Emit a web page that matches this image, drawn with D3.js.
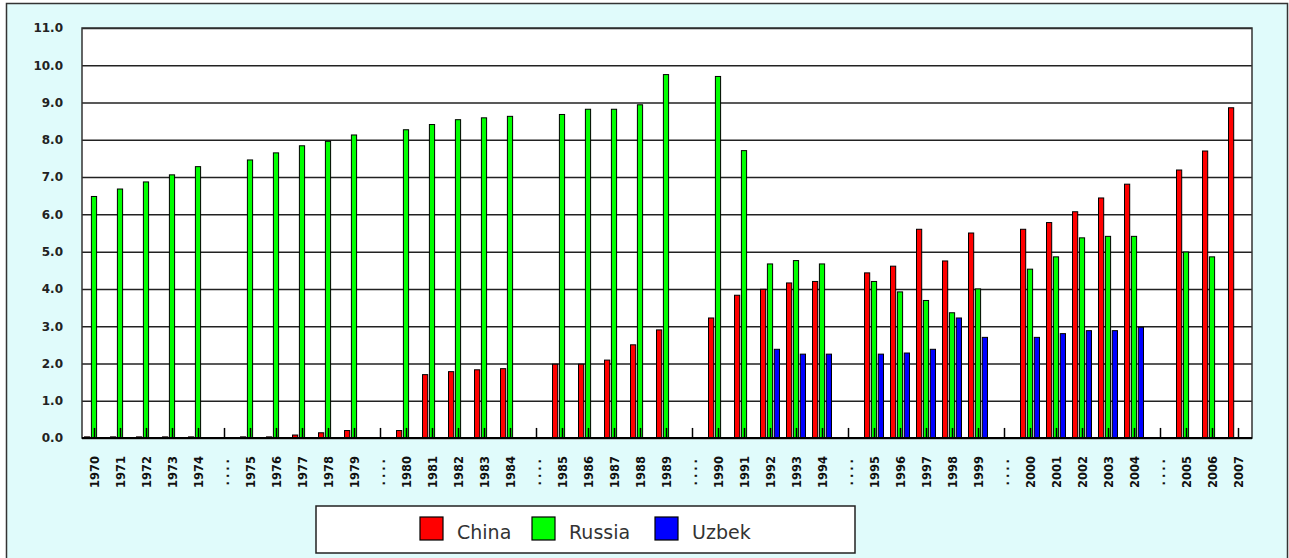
<!DOCTYPE html>
<html>
<head>
<meta charset="utf-8">
<script src="https://cdn.jsdelivr.net/npm/d3@7"></script>
<style>
  html, body { margin: 0; padding: 0; background: #fff; }
  svg { display: block; }
</style>
</head>
<body>
<div id="app"></div>
<script>
// categories, "...." are the gaps between the 5-year blocks
const categories = [
    '1970','1971','1972','1973','1974','....',
    '1975','1976','1977','1978','1979','....',
    '1980','1981','1982','1983','1984','....',
    '1985','1986','1987','1988','1989','....',
    '1990','1991','1992','1993','1994','....',
    '1995','1996','1997','1998','1999','....',
    '2000','2001','2002','2003','2004','....',
    '2005','2006','2007'
]

const china = [
    0.03,0.03,0.03,0.03,0.03,null,
    0.03,0.03,0.08,0.14,0.2,null,
    0.2,1.7,1.78,1.83,1.86,null,
    1.98,1.98,2.09,2.5,2.9,null,
    3.22,3.83,3.99,4.16,4.2,null,
    4.43,4.61,5.6,4.75,5.5,null,
    5.6,5.78,6.07,6.44,6.81,null,
    7.19,7.7,8.86
]

const russia = [
    6.48,6.68,6.87,7.06,7.28,null,
    7.46,7.65,7.84,7.96,8.13,null,
    8.27,8.41,8.54,8.59,8.63,null,
    8.68,8.82,8.82,8.94,9.75,null,
    9.7,7.71,4.67,4.76,4.67,null,
    4.2,3.92,3.69,3.36,4.0,null,
    4.53,4.86,5.37,5.41,5.41,null,
    4.99,4.86,null
]

const uzbek = [
    null,null,null,null,null,null,
    null,null,null,null,null,null,
    null,null,null,null,null,null,
    null,null,null,null,null,null,
    null,null,2.38,2.25,2.25,null,
    2.25,2.28,2.38,3.22,2.7,null,
    2.7,2.8,2.88,2.88,2.97,null,
    null,null,null
]

// small hidden marker series drawn as a thin tick in every category
const marker = 0.27

const seriesNames = ['China', 'Russia', 'Uzbek']
const seriesColors = ['#ff0000', '#00ff00', '#0000ff']
const yTicks = d3.range(0, 12)

const W = 1289, H = 558
const plot = {left: 82, right: 1252, top: 28, bottom: 438}

const svg = d3.create('svg')
    .attr('width', W)
    .attr('height', H)
    .attr('viewBox', [0, 0, W, H])

// outer frame
svg.append('rect')
    .attr('x', 6.5).attr('y', 3.5)
    .attr('width', W - 8).attr('height', H)
    .attr('fill', '#e0fbfb')
    .attr('stroke', '#333')
    .attr('stroke-width', 1.5)

svg.append('rect')
    .attr('x', plot.left).attr('y', plot.top)
    .attr('width', plot.right - plot.left)
    .attr('height', plot.bottom - plot.top)
    .attr('fill', '#fff')

const x = d3.scaleBand()
    .domain(d3.range(categories.length))
    .range([plot.left, plot.right])

const sub = d3.scaleBand()
    .domain(seriesNames)
    .range([2, 22])
    .paddingInner(0.1)

const y = d3.scaleLinear()
    .domain([0, 11])
    .range([plot.bottom, plot.top])

// y axis + gridlines
const yAxis = svg.append('g')
    .attr('transform', `translate(${plot.left},0)`)
    .call(d3.axisLeft(y)
        .tickValues(yTicks)
        .tickFormat(d3.format('.1f'))
        .tickSize(-(plot.right - plot.left))
        .tickPadding(19))

yAxis.select('.domain').remove()
yAxis.selectAll('line')
    .attr('stroke', '#222')
    .attr('stroke-width', 1.5)
yAxis.selectAll('text')
    .attr('font-family', 'DejaVu Sans')
    .attr('font-size', 12)
    .attr('font-weight', 'bold')
    .attr('fill', '#222')

// bars
const table = categories.map((c, i) => ({
    i,
    values: [china[i], russia[i], uzbek[i]]
}))

const groups = svg.append('g')
    .selectAll('g')
    .data(table)
    .join('g')
    .attr('transform', d => `translate(${x(d.i)},0)`)

groups.selectAll('rect')
    .data(d => d.values.map((v, k) => ({name: seriesNames[k], v, k})).filter(e => e.v != null))
    .join('rect')
    .attr('x', d => sub(d.name) + 0.5)
    .attr('width', sub.bandwidth() - 1)
    .attr('y', d => y(d.v))
    .attr('height', d => y(0) - y(d.v))
    .attr('fill', d => seriesColors[d.k])
    .attr('stroke', '#000')
    .attr('stroke-width', 1)

// marker ticks
groups.append('line')
    .attr('x1', x.bandwidth() / 2 - 0.5)
    .attr('x2', x.bandwidth() / 2 - 0.5)
    .attr('y1', y(0))
    .attr('y2', y(marker))
    .attr('stroke', '#000')
    .attr('stroke-width', 1.5)

// plot border
svg.append('rect')
    .attr('x', plot.left).attr('y', plot.top)
    .attr('width', plot.right - plot.left)
    .attr('height', plot.bottom - plot.top)
    .attr('fill', 'none')
    .attr('stroke', '#333')
    .attr('stroke-width', 1.5)

svg.append('line')
    .attr('x1', plot.left).attr('x2', plot.right)
    .attr('y1', y(0)).attr('y2', y(0))
    .attr('stroke', '#000')
    .attr('stroke-width', 2)

// x axis labels
const xAxis = svg.append('g')
    .attr('transform', `translate(0,${plot.bottom})`)
    .call(d3.axisBottom(x)
        .tickSize(0)
        .tickFormat(i => categories[i]))

xAxis.select('.domain').remove()
xAxis.selectAll('text')
    .attr('transform', 'rotate(-90)')
    .attr('x', -18)
    .attr('y', -0.5)
    .attr('dy', '0.35em')
    .attr('text-anchor', 'end')
    .attr('font-family', 'DejaVu Sans')
    .attr('font-size', 11.5)
    .attr('font-weight', 'bold')
    .attr('fill', '#111')
    .attr('letter-spacing', d => categories[d] === '....' ? 3 : 0)

// legend
const legend = svg.append('g')

legend.append('rect')
    .attr('x', 316).attr('y', 506)
    .attr('width', 539).attr('height', 47)
    .attr('fill', '#fff')
    .attr('stroke', '#222')
    .attr('stroke-width', 1.5)

const legendX = [420, 532, 655]

const items = legend.selectAll('g.item')
    .data(seriesNames)
    .join('g')
    .attr('class', 'item')
    .attr('transform', (d, i) => `translate(${legendX[i]},517)`)

items.append('rect')
    .attr('width', 23).attr('height', 23)
    .attr('fill', (d, i) => seriesColors[i])
    .attr('stroke', '#000')
    .attr('stroke-width', 1.2)

items.append('text')
    .attr('x', 37)
    .attr('y', 22)
    .attr('font-family', 'DejaVu Sans')
    .attr('font-size', 19)
    .attr('fill', '#333')
    .text(d => d)

d3.select('#app').append(() => svg.node())
</script>
</body>
</html>
